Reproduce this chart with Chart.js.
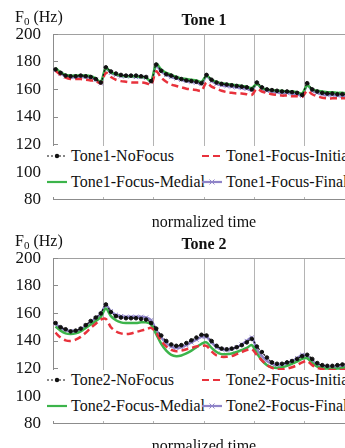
<!DOCTYPE html>
<html>
<head>
<meta charset="utf-8">
<script src="https://cdn.jsdelivr.net/npm/chart.js@4.4.1/dist/chart.umd.min.js"></script>
<style>
  html, body { margin: 0; padding: 0; background: #fff; overflow: hidden; width: 345px; height: 448px; }
  .panel { position: absolute; left: 0; width: 360px; height: 232px; }
  .panel canvas { position: absolute; left: 0; top: 0; }
  .ylab { position: absolute; left: 15px; top: 9px; font: 16px 'Liberation Serif', serif; line-height: 16px; color: #111; white-space: nowrap; }
  .ylab sub { font-size: 11px; vertical-align: -3px; line-height: 0; }
  .legend { position: absolute; background: #fff; font: 16px 'Liberation Serif', serif; color: #111; }
  .legend .item { position: absolute; white-space: nowrap; display: flex; align-items: center; height: 20px; }
  .legend svg { margin-right: 4px; flex: none; }
</style>
</head>
<body>
<div class="panel" style="top:0">
  <canvas id="tone1" width="360" height="232"></canvas>
  <div class="ylab">F<sub>0</sub> (Hz)</div>
  <div class="legend" id="legend1"></div>
</div>
<div class="panel" style="top:224px">
  <canvas id="tone2" width="360" height="232"></canvas>
  <div class="ylab">F<sub>0</sub> (Hz)</div>
  <div class="legend" id="legend2"></div>
</div>
<script>
const yTicks = [80, 100, 120, 140, 160, 180, 200];
const segmentCount = 6;
const pointsPerSegment = 10;

const tone1Names = ['Tone1-NoFocus', 'Tone1-Focus-Initial', 'Tone1-Focus-Medial', 'Tone1-Focus-Final'];
const tone1NoFocus = [
  174.5, 172, 170, 169.5, 169.5, 170, 169.5, 169, 167.5, 165,
  176, 173, 171.5, 170.5, 170, 170, 170, 169.5, 169, 166,
  178, 173.5, 171, 170, 168.5, 167.5, 166.5, 166, 165.5, 164.5,
  170.5, 167, 165, 164, 163.5, 163, 162.5, 162, 161.5, 160,
  165, 161.5, 160, 159.5, 159, 158.5, 158.5, 158, 157.5, 156,
  164.5, 160, 158.5, 157.5, 157, 157, 156.5, 156.5, 156, 155.5
];
const tone1Initial = [
  173.5, 170.5, 168.5, 167.5, 167.5, 167.5, 167, 166.5, 166, 164.5,
  172, 169, 167, 166, 165.5, 165, 165, 165, 164.5, 163.5,
  173, 168.5, 165.5, 163.5, 162.5, 161.5, 160.5, 160, 159.5, 159,
  165, 162, 160.5, 159, 158, 157.5, 157, 157, 156.5, 156,
  160.5, 158.5, 157.5, 156.5, 156, 155.5, 155.5, 155, 155, 154.5,
  159, 156.5, 155, 154, 153.5, 153.5, 153.5, 153.5, 153.5, 153.5
];
const tone1Medial = [
  175.5, 172.5, 170.5, 170, 170, 170, 170, 169.5, 168, 165.5,
  175.5, 172.5, 171, 170, 169.5, 169.5, 169.5, 169, 168.5, 166,
  178.5, 174.5, 172, 170.5, 169, 168, 167.5, 167, 166.5, 165.5,
  170, 167, 165.5, 164.5, 164, 163.5, 163, 162.5, 162, 161,
  164, 161, 160, 159.5, 159, 159, 158.5, 158.5, 158, 157,
  163, 160, 159, 158.5, 158, 158, 157.5, 157.5, 157, 156.5
];
const tone1Final = [
  174, 171.5, 169.5, 169, 169, 169.5, 169, 168.5, 167, 164.5,
  175, 172, 170.5, 169.5, 169.5, 169.5, 169, 169, 168.5, 165.5,
  177, 173, 170.5, 169, 168, 167, 166, 165.5, 165, 164,
  169.5, 166, 164, 163, 162.5, 162, 161.5, 161, 160.5, 159.5,
  164, 160.5, 159, 158.5, 158, 157.5, 157.5, 157, 156.5, 155.5,
  163, 159, 157.5, 156.5, 156, 156, 155.5, 155.5, 155, 155
];

const tone2Names = ['Tone2-NoFocus', 'Tone2-Focus-Initial', 'Tone2-Focus-Medial', 'Tone2-Focus-Final'];
const tone2NoFocus = [
  153, 150, 148.5, 147, 147.5, 149, 151.5, 154.5, 157, 160,
  166.5, 161, 158, 157, 156.5, 156.5, 156.5, 156, 155.5, 153,
  149, 144, 140, 137.5, 136.5, 137, 138.5, 140.5, 142.5, 144.5,
  144, 140, 136.5, 134.5, 134, 134.5, 135.5, 137, 139, 141.5,
  136, 132, 128, 124.5, 123.5, 123.5, 124.5, 125.5, 127, 129,
  130, 127, 124, 122.5, 122, 122, 122.5, 123, 124, 124.5
];
const tone2Initial = [
  146, 142.5, 140.5, 140, 141, 143, 146, 149.5, 152.5, 155.5,
  156, 150, 147, 145.5, 145, 145.5, 146.5, 147.5, 148.5, 149.5,
  146, 140, 136, 133.5, 132.5, 133, 134, 135, 136, 136.5,
  136.5, 132.5, 129.5, 128.5, 128.5, 129, 130.5, 132, 133.5, 134,
  130, 126, 122.5, 120.5, 119.5, 119.5, 120, 121, 122.5, 124.5,
  125.5, 122.5, 120.5, 119.5, 119, 119, 119, 119, 119.5, 120
];
const tone2Medial = [
  150.5, 147.5, 145.5, 145, 145.5, 147, 149.5, 152, 154.5, 157.5,
  163.5, 158, 155, 153.5, 153, 153, 153, 153.5, 153.5, 152,
  145, 138, 133, 130, 129, 129.5, 131, 133, 135.5, 138,
  139, 135, 132, 130.5, 130.5, 131, 132, 133.5, 135, 137,
  131, 126, 122.5, 121, 120.5, 121, 122, 123.5, 125, 127,
  127.5, 124, 121.5, 120.5, 120, 120, 120, 120.5, 121, 121.5
];
const tone2Final = [
  152.5, 149.5, 148, 147, 147, 148.5, 151, 153.5, 156.5, 159.5,
  166, 161.5, 159, 158, 157.5, 157.5, 157.5, 157.5, 157, 155,
  148, 142.5, 138.5, 136, 135, 135.5, 137, 139, 141, 143,
  143, 139, 135.5, 134, 133.5, 134, 135.5, 137.5, 140, 142.5,
  134, 129, 125.5, 123.5, 122.5, 123, 124, 125.5, 127.5, 130,
  129, 125.5, 123, 121.5, 121, 121, 121, 121.5, 122.5, 123.5
];

const seriesStyles = [
  { color: '#111111', width: 1.2, dash: [2, 2], point: 'circle', radius: 1.8 },
  { color: '#e8323c', width: 2.5, dash: [7, 4], point: false, radius: 0 },
  { color: '#3cb44b', width: 2.5, dash: [], point: false, radius: 0 },
  { color: '#8f84c8', width: 2.5, dash: [], point: 'crossRot', radius: 3 }
];

Chart.defaults.font.family = "'Liberation Serif', serif";
Chart.defaults.color = '#111';

function toPoints(values) {
  return values.map((v, i) => ({
    x: Math.floor(i / pointsPerSegment) + ((i % pointsPerSegment) + 0.5) / pointsPerSegment,
    y: v
  }));
}

function sampleSvg(st) {
  let s = '<svg width="20" height="10" viewBox="0 0 20 10">' +
    '<line x1="0" y1="5" x2="20" y2="5" stroke="' + st.color + '" stroke-width="' + Math.min(st.width, 2.2) +
    '" stroke-dasharray="' + (st.dash.length ? st.dash.join(' ') : 'none') + '"/>';
  if (st.point === 'circle') s += '<circle cx="10" cy="5" r="2.2" fill="' + st.color + '"/>';
  if (st.point === 'crossRot') s += '<path d="M7.5 2.5 L12.5 7.5 M12.5 2.5 L7.5 7.5" stroke="' + st.color + '" stroke-width="1"/>';
  return s + '</svg>';
}

function makeChart(canvasId, legendId, title, names, series) {
  const datasets = series.map((values, i) => {
    const st = seriesStyles[i];
    return {
      label: names[i],
      data: toPoints(values),
      borderColor: st.color,
      backgroundColor: st.color,
      borderWidth: st.width,
      borderDash: st.dash,
      pointStyle: st.point,
      pointRadius: st.radius,
      pointBorderWidth: 1,
      tension: 0.3,
      fill: false
    };
  });

  const chart = new Chart(document.getElementById(canvasId), {
    type: 'line',
    data: { datasets: datasets },
    options: {
      responsive: false,
      animation: false,
      events: [],
      layout: { padding: { left: 0, right: 5, top: 0, bottom: 0 } },
      plugins: {
        legend: { display: false },
        tooltip: { enabled: false },
        title: {
          display: true,
          text: title,
          fullSize: false,
          color: '#111',
          font: { size: 16, weight: 'bold' },
          padding: { top: 11, bottom: 4 }
        }
      },
      scales: {
        x: {
          type: 'linear',
          min: 0,
          max: segmentCount,
          ticks: { display: false, stepSize: 1 },
          grid: { color: '#b4b4b4', drawTicks: false },
          border: { color: '#8c8c8c' },
          title: {
            display: true,
            text: 'normalized time',
            color: '#111',
            font: { size: 16 },
            padding: { top: 13, bottom: 0 }
          }
        },
        y: {
          min: yTicks[0],
          max: yTicks[yTicks.length - 1],
          afterBuildTicks: (s) => { s.ticks = yTicks.map(v => ({ value: v })); },
          afterFit: (s) => { s.width = 53; },
          ticks: { color: '#111', font: { size: 17 }, padding: 17 },
          grid: {
            color: (ctx) => (ctx.tick && ctx.tick.value === 200 ? '#a0a0a0' : 'rgba(0,0,0,0)'),
            tickColor: '#8c8c8c',
            tickLength: -5
          },
          border: { color: '#8c8c8c' }
        }
      }
    }
  });

  // white legend box laid over the lower part of the plot, as in the original
  const el = document.getElementById(legendId);
  const y = chart.scales.y;
  const top = y.getPixelForValue(119);
  const bottom = y.getPixelForValue(82);
  el.style.left = '47px';
  el.style.top = top + 'px';
  el.style.width = (chart.width - 47) + 'px';
  el.style.height = (bottom - top) + 'px';
  names.forEach((name, i) => {
    const item = document.createElement('div');
    item.className = 'item';
    item.style.left = (i % 2 === 0 ? 0 : 155) + 'px';
    item.style.top = (0.5 + Math.floor(i / 2) * 26) + 'px';
    item.innerHTML = sampleSvg(seriesStyles[i]);
    const span = document.createElement('span');
    span.textContent = name;
    item.appendChild(span);
    el.appendChild(item);
  });
  return chart;
}

makeChart('tone1', 'legend1', 'Tone 1', tone1Names, [tone1NoFocus, tone1Initial, tone1Medial, tone1Final]);
makeChart('tone2', 'legend2', 'Tone 2', tone2Names, [tone2NoFocus, tone2Initial, tone2Medial, tone2Final]);
</script>
</body>
</html>
